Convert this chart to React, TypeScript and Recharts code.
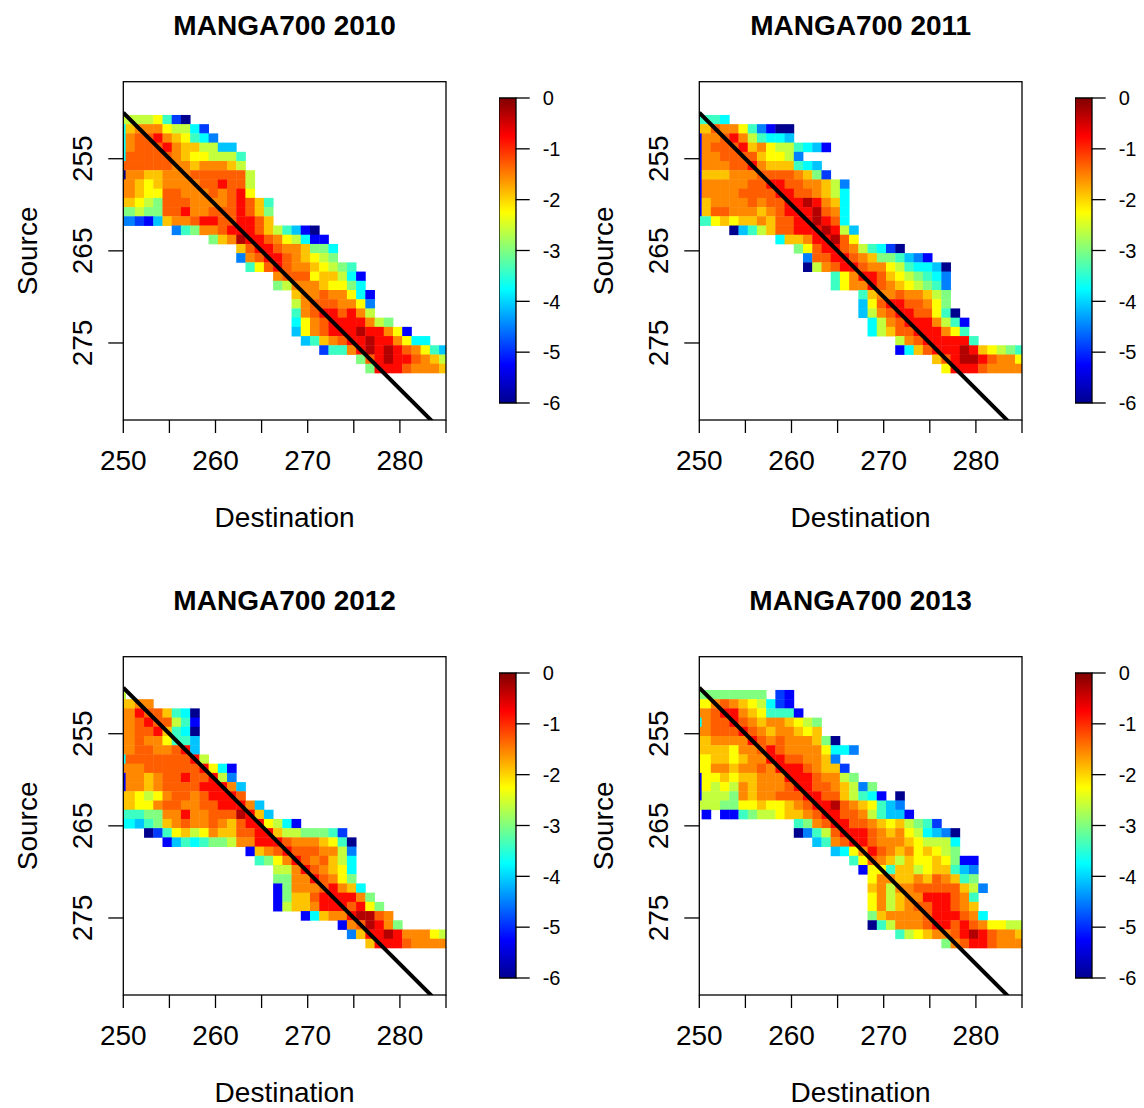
import React from 'react'
import {
  ScatterChart, Scatter, XAxis, YAxis,
  BarChart, Bar,
} from 'recharts'

const FONT = "'Liberation Sans', Arial, Helvetica, sans-serif"

// one character per cell ('.' = no cell)
const LEVELS: Record<string, number> = {
  '0': -0.3, '1': -0.8, '2': -1.3, '3': -1.55, '4': -1.9, '5': -2.25, '6': -2.6,
  '7': -3.0, '8': -3.4, '9': -3.75, a: -4.1, b: -4.5, c: -4.9, d: -5.25, e: -6,
}

const YEARS = [2010, 2011, 2012, 2013]
const FIRST_DEST = 249.75   // centre of the left-most (clipped) column
const FIRST_SOURCE = 250.75 // centre of the top row

// [first column index, codes] for each Source row, top to bottom
const ROWS_2010: [number, string][] = [
  [0, '666658ce'],
  [0, '943335669c'],
  [0, '9322134589b'],
  [0, '93222134466aa'],
  [0, '92222234556668'],
  [0, '22222233433346'],
  [0, 'e33443332222226'],
  [0, '334543333221226'],
  [0, '334552233323215'],
  [0, '44567222333321248'],
  [0, '77677221332221247'],
  [0, 'bbcda433211221124'],
  [6, 'b873321112468ade'],
  [10, '74301123569dd'],
  [13, '42112334779'],
  [13, 'b3211234567'],
  [14, '852123345678'],
  [17, '322254469d'],
  [17, '7633345579'],
  [19, '43323359d'],
  [19, '63222335b'],
  [19, '832112136'],
  [19, '95321111367'],
  [19, 'a53211101135d'],
  [20, 'a8432110113599'],
  [22, 'c883101012358a'],
  [26, '7210112346'],
  [27, '711123334'],
]

const ROWS_2011: [number, string][] = [
  [0, '8889'],
  [0, '4423358bdee'],
  [0, 'd332136899a'],
  [0, 'd322214356689ad'],
  [0, 'd3322224556b'],
  [0, 'd333221344489a'],
  [0, 'd4443332222347c'],
  [0, 'd333332211223346b'],
  [0, 'd3333222211223469'],
  [0, 'd4333323221101349'],
  [0, 'd4223334321110239'],
  [0, '88545443422110129'],
  [4, 'ea86422111016a'],
  [9, '944311025'],
  [11, '7521123689ce'],
  [12, 'b2211234778abd'],
  [12, 'e6321123356899ae'],
  [15, '853112456789b'],
  [15, '853312345678b'],
  [18, '8433233467'],
  [18, 'a521122357'],
  [18, 'a632112258e'],
  [19, '9632111368d'],
  [19, '96422111358'],
  [22, '632111118'],
  [22, 'd9421110145678'],
  [26, '4210012335'],
  [27, '511123333'],
]

const ROWS_2012: [number, string][] = [
  [0, '6'],
  [0, '4433'],
  [0, '33122489e'],
  [0, '33212268d'],
  [0, '33221489e'],
  [0, '33233588a'],
  [0, '33223321a'],
  [0, '9222222216'],
  [0, '333222222159d'],
  [0, 'd33432212216b'],
  [0, 'd334322221113a'],
  [0, '44565322321112'],
  [0, '445532233221113a'],
  [0, '8887733133222014a'],
  [0, '99a8743233234211569d'],
  [3, 'ec8546534422114667778c'],
  [5, 'da898776331112333458e'],
  [14, 'd4321222336b'],
  [15, '87531232469'],
  [17, '663123459'],
  [17, '773312357'],
  [17, 'd733321349'],
  [17, 'd7442111137'],
  [17, 'd64431112157'],
  [20, 'd943310023'],
  [24, 'd320137'],
  [25, 'b4110133356'],
  [27, '411123333'],
]

const ROWS_2013: [number, string][] = [
  [0, '77777777.cd'],
  [0, '553234569cd'],
  [0, '33211345888d'],
  [0, '93221234334567'],
  [0, '33222123433454'],
  [0, '443333123233347e'],
  [0, '44445332123333599b'],
  [0, '554454331122334b'],
  [0, '5533433231112344c'],
  [0, 'd55454433311123367'],
  [0, 'd56563433321122346b7'],
  [0, 'd6667343322211224689d.e'],
  [0, '666775545543211023458ab'],
  [1, 'd.dd8766544321122368aad'],
  [11, '873211223454678c'],
  [11, 'eb8621112343569abe'],
  [13, 'a832112333456669'],
  [15, 'a9531234354567'],
  [17, '852346455457dd'],
  [18, 'd5584465448ab'],
  [19, '533443423487'],
  [19, '436332222246b'],
  [19, '536433111238'],
  [19, '536432211234'],
  [19, '7433332111239'],
  [19, 'e8633321121235566'],
  [22, '86543321012334'],
  [27, '732112333'],
]

const ROWS_BY_YEAR = [ROWS_2010, ROWS_2011, ROWS_2012, ROWS_2013]

const X_DOMAIN: [number, number] = [250, 285]
const Y_DOMAIN: [number, number] = [246.64, 283.36]
const X_TICKS = [250, 255, 260, 265, 270, 275, 280, 285]
const X_LABELS = [250, 260, 270, 280]
const Y_TICKS = [255, 265, 275]
const DIAGONAL = [X_DOMAIN[0], X_DOMAIN[1]]
const SCALE_RANGE: [number, number] = [-6, 0]
const SCALE_TICKS = [0, -1, -2, -3, -4, -5, -6]

const JET_STOPS: [number, string][] = [
  [0, '#00008F'], [0.125, '#0000FF'], [0.375, '#00FFFF'],
  [0.625, '#FFFF00'], [0.875, '#FF0000'], [1, '#800000'],
]

// layout of one panel (px)
const PANEL_OFFSETS = [[0, 0], [576, 0], [0, 575], [576, 575]]
const PLOT_LEFT = 123.3
const PLOT_TOP = 81.7
const PLOT_W = 322.7
const PLOT_H = 338.3
const CELL_W = PLOT_W / (X_DOMAIN[1] - X_DOMAIN[0])
const CELL_H = PLOT_H / (Y_DOMAIN[1] - Y_DOMAIN[0])

function hexToRgb(h: string) {
  return [1, 3, 5].map(i => parseInt(h.slice(i, i + 2), 16))
}

function jet(v: number) {
  const t = Math.min(1, Math.max(0, (v - SCALE_RANGE[0]) / (SCALE_RANGE[1] - SCALE_RANGE[0])))
  for (let i = 1; i < JET_STOPS.length; i++) {
    const [t1, c1] = JET_STOPS[i]
    if (t <= t1) {
      const [t0, c0] = JET_STOPS[i - 1]
      const f = (t - t0) / (t1 - t0)
      const a = hexToRgb(c0)
      const b = hexToRgb(c1)
      return `rgb(${a.map((x, k) => Math.round(x + (b[k] - x) * f)).join(',')})`
    }
  }
  return JET_STOPS[JET_STOPS.length - 1][1]
}

function toCells(rows: [number, string][]) {
  const out: { dest: number; source: number; value: number }[] = []
  rows.forEach(([start, codes], i) => {
    codes.split('').forEach((ch, k) => {
      if (ch === '.') return
      out.push({ dest: FIRST_DEST + start + k, source: FIRST_SOURCE + i, value: LEVELS[ch] })
    })
  })
  return out
}

const diagonalData = DIAGONAL.map(v => ({ dest: v, source: v }))

function HeatCell(props: any) {
  const { cx, cy, payload } = props
  if (cx == null || cy == null) return <g />
  return (
    <rect
      x={cx - CELL_W / 2}
      y={cy - CELL_H / 2}
      width={CELL_W + 0.4}
      height={CELL_H + 0.4}
      fill={jet(payload.value)}
    />
  )
}

function XTick({ x, y, payload }: any) {
  if (!X_LABELS.includes(payload.value)) return <g />
  return (
    <text x={x} y={y} textAnchor="middle" fontSize={28} fontFamily={FONT} fill="#000">
      {payload.value}
    </text>
  )
}

function YTick({ x, y, payload }: any) {
  return (
    <text
      x={x} y={y} textAnchor="middle" fontSize={28} fontFamily={FONT} fill="#000"
      transform={`rotate(-90, ${x}, ${y})`}
    >
      {payload.value}
    </text>
  )
}

function ScaleTick({ x, y, payload }: any) {
  return (
    <text x={x} y={y} dy="0.36em" textAnchor="start" fontSize={20} fontFamily={FONT} fill="#000">
      {payload.value}
    </text>
  )
}

function Panel({ index }: { index: number }) {
  const [left, top] = PANEL_OFFSETS[index]
  const year = YEARS[index]
  const cells = toCells(ROWS_BY_YEAR[index])
  const gradId = `jet-${year}`
  const tickStroke = { stroke: '#000', strokeWidth: 1.3 }

  return (
    <div style={{ position: 'absolute', left, top, width: 576, height: 575 }}>
      <div style={{ position: 'absolute', left: 0, top: 0 }}>
        <ScatterChart
          width={560}
          height={560}
          margin={{ top: PLOT_TOP, right: 560 - PLOT_LEFT - PLOT_W, bottom: 560 - PLOT_TOP - PLOT_H - 40, left: PLOT_LEFT - 60 }}
        >
          <XAxis
            type="number" dataKey="dest" domain={X_DOMAIN} ticks={X_TICKS}
            allowDataOverflow interval={0} height={40}
            tickSize={13} tickMargin={37} tickLine={tickStroke} axisLine={false}
            tick={<XTick />}
          />
          <YAxis
            type="number" dataKey="source" domain={Y_DOMAIN} ticks={Y_TICKS}
            reversed allowDataOverflow interval={0} width={60}
            tickSize={15} tickMargin={16.6} tickLine={tickStroke} axisLine={false}
            tick={<YTick />}
          />
          <Scatter data={cells} shape={<HeatCell />} isAnimationActive={false} />
          <Scatter
            data={diagonalData}
            line={{ stroke: '#000', strokeWidth: 4 }}
            shape={() => <g />}
            isAnimationActive={false}
          />
        </ScatterChart>
      </div>

      {/* colour scale */}
      <div style={{ position: 'absolute', left: 499, top: 78.3 }}>
        <BarChart
          width={100}
          height={345}
          data={[{ name: 'scale', span: SCALE_RANGE }]}
          margin={{ top: 20, right: 0, bottom: 20, left: 0 }}
          barCategoryGap={0}
        >
          <defs>
            <linearGradient id={gradId} x1="0" y1="1" x2="0" y2="0">
              {JET_STOPS.map(([o, c]) => (
                <stop key={o} offset={o} stopColor={c} />
              ))}
            </linearGradient>
          </defs>
          <XAxis dataKey="name" hide />
          <YAxis
            orientation="right" type="number" domain={SCALE_RANGE} ticks={SCALE_TICKS}
            interval={0} width={83.3} tickSize={14} tickMargin={13}
            tickLine={tickStroke} axisLine={false} tick={<ScaleTick />}
          />
          <Bar
            dataKey="span" fill={`url(#${gradId})`} stroke="#000" strokeWidth={1.3}
            isAnimationActive={false}
          />
        </BarChart>
      </div>

      <svg
        width={576} height={575}
        style={{ position: 'absolute', left: 0, top: 0, pointerEvents: 'none' }}
      >
        <rect x={PLOT_LEFT} y={PLOT_TOP} width={PLOT_W} height={PLOT_H} fill="none" stroke="#000" strokeWidth={1.3} />
        <text x={PLOT_LEFT + PLOT_W / 2} y={35} textAnchor="middle" fontSize={28} fontWeight="bold" fontFamily={FONT} fill="#000">
          MANGA700 {year}
        </text>
        <text x={PLOT_LEFT + PLOT_W / 2} y={527} textAnchor="middle" fontSize={28} fontFamily={FONT} fill="#000">
          Destination
        </text>
        <text
          x={37} y={PLOT_TOP + PLOT_H / 2} textAnchor="middle" fontSize={28} fontFamily={FONT} fill="#000"
          transform={`rotate(-90, 37, ${PLOT_TOP + PLOT_H / 2})`}
        >
          Source
        </text>
      </svg>
    </div>
  )
}

export default function App() {
  return (
    <div style={{ position: 'absolute', left: 0, top: 0, width: 1144, height: 1108, background: '#fff', fontFamily: FONT }}>
      {YEARS.map((y, i) => <Panel key={y} index={i} />)}
    </div>
  )
}
